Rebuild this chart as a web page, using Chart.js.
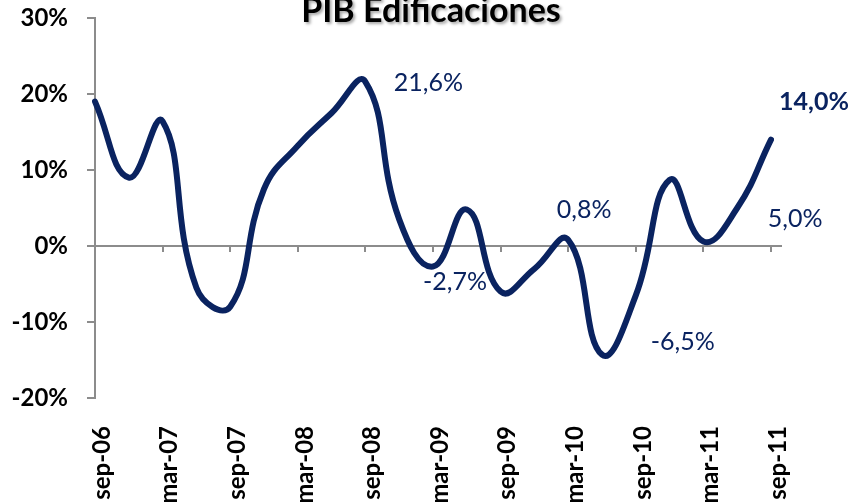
<!DOCTYPE html>
<html>
<head>
<meta charset="utf-8">
<script src="https://cdn.jsdelivr.net/npm/chart.js@4.4.0/dist/chart.umd.min.js"></script>
<style>
  html, body { margin: 0; padding: 0; background: #fff; overflow: hidden; }
  canvas { display: block; }
</style>
</head>
<body>
<canvas id="pibChart" width="851" height="502"></canvas>
<script>
const C = {
  navy: '#0a2360',
  axis: '#8c8c8c',
  text: '#000000',
  shadow: 'rgba(0,0,0,0.35)',
};
const FONT = 'Lato, "Open Sans", sans-serif';

// PIB Edificaciones, variación anual (%) por trimestre
const quarters = ['sep-06', 'dic-06', 'mar-07', 'jun-07', 'sep-07', 'dic-07', 'mar-08', 'jun-08',
  'sep-08', 'dic-08', 'mar-09', 'jun-09', 'sep-09', 'dic-09', 'mar-10', 'jun-10', 'sep-10',
  'dic-10', 'mar-11', 'jun-11', 'sep-11'];
const pib = [19.0, 9.0, 16.4, -5.5, -8.0, 7.5, 13.2, 17.5, 21.6, 3.5, -2.7, 4.8, -6.0, -3.0,
  0.8, -14.3, -6.5, 8.7, 0.6, 5.0, 14.0];
const yTicks = [-20, -10, 0, 10, 20, 30];

// etiquetas de datos
const noteIdx = [8, 10, 14, 16, 19, 20];
const noteText = ['21,6%', '-2,7%', '0,8%', '-6,5%', '5,0%', '14,0%'];
const noteBold = [false, false, false, false, false, true];
// desplazamiento de cada etiqueta respecto a su punto (px)
const noteOffset = [[63, 1], [22, 15], [16, -30], [47, 47], [58, 11], [43, -38]];

const decor = {
  id: 'decor',
  beforeDatasetsDraw(chart) {
    const { ctx, chartArea: a, scales: { x, y } } = chart;
    const y0 = y.getPixelForValue(0);
    ctx.save();
    ctx.strokeStyle = C.axis;
    ctx.lineWidth = 2;
    ctx.beginPath();
    ctx.moveTo(a.left, y0);
    ctx.lineTo(a.right + 11, y0);
    quarters.forEach((q, i) => {
      if (i % 2 !== 0) return;
      const px = Math.round(x.getPixelForValue(i));
      ctx.moveTo(px, y0);
      ctx.lineTo(px, y0 + 6);
    });
    ctx.stroke();
    ctx.restore();
  },
  afterDraw(chart) {
    const { ctx, scales: { x, y } } = chart;
    ctx.save();
    // título con sombra
    ctx.font = 'bold 34px ' + FONT;
    ctx.textAlign = 'center';
    ctx.textBaseline = 'alphabetic';
    ctx.shadowColor = C.shadow;
    ctx.shadowOffsetX = 2;
    ctx.shadowOffsetY = 2;
    ctx.shadowBlur = 3;
    ctx.fillStyle = C.text;
    ctx.fillText('PIB Edificaciones', 431, 22);
    ctx.shadowColor = 'transparent';

    ctx.fillStyle = C.navy;
    ctx.textBaseline = 'middle';
    noteIdx.forEach((idx, k) => {
      ctx.font = (noteBold[k] ? 'bold ' : '') + '25px ' + FONT;
      const px = x.getPixelForValue(idx) + noteOffset[k][0];
      const py = y.getPixelForValue(pib[idx]) + noteOffset[k][1];
      ctx.fillText(noteText[k], px, py);
    });
    ctx.restore();
  },
};

new Chart(document.getElementById('pibChart'), {
  type: 'line',
  data: {
    labels: quarters,
    datasets: [{
      data: pib,
      borderColor: C.navy,
      borderWidth: 6,
      borderCapStyle: 'round',
      borderJoinStyle: 'round',
      pointRadius: 0,
      tension: 0.45,
      fill: false,
    }],
  },
  options: {
    responsive: false,
    animation: false,
    layout: { padding: { top: 18, right: 80, left: 0, bottom: 0 } },
    plugins: { legend: { display: false }, tooltip: { enabled: false } },
    scales: {
      x: {
        grid: { display: false },
        border: { display: false },
        afterFit(s) { s.height = 104; s.paddingLeft = 0; s.paddingRight = 0; },
        ticks: {
          autoSkip: false,
          minRotation: 90,
          maxRotation: 90,
          padding: 20,
          labelOffset: 7,
          color: C.text,
          font: { size: 24, weight: 'bold', family: FONT },
          callback: (v, i) => (i % 2 === 0 ? quarters[i] : ''),
        },
      },
      y: {
        min: yTicks[0],
        max: yTicks[yTicks.length - 1],
        afterFit(s) { s.width = 95; s.paddingTop = 0; s.paddingBottom = 0; },
        afterBuildTicks(s) { s.ticks = yTicks.map(v => ({ value: v })); },
        grid: { drawOnChartArea: false, drawTicks: true, tickLength: 8, color: C.axis, lineWidth: 2 },
        border: { display: true, color: C.axis, width: 2 },
        ticks: {
          padding: 19,
          color: C.text,
          font: { size: 24, weight: 'bold', family: FONT },
          callback: v => v + '%',
        },
      },
    },
  },
  plugins: [decor],
});
</script>
</body>
</html>
